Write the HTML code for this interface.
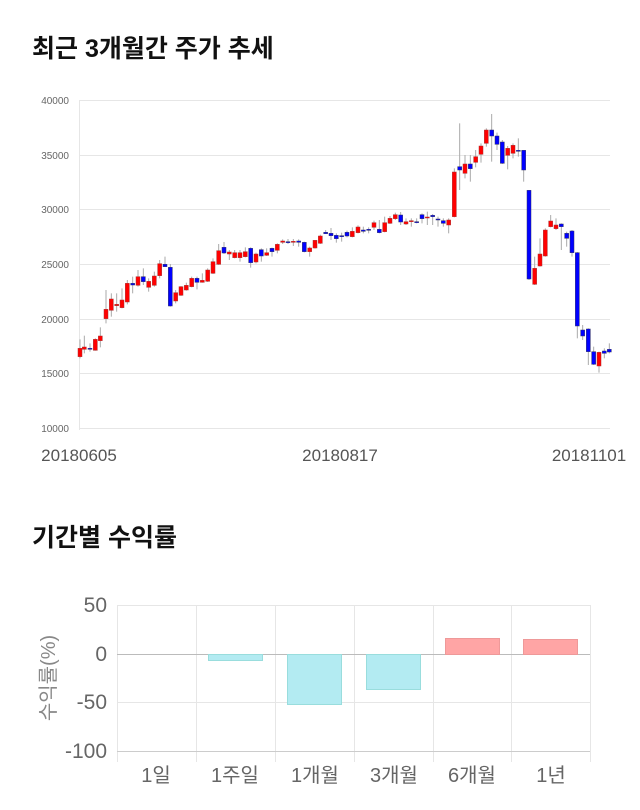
<!DOCTYPE html>
<html><head><meta charset="utf-8"><style>
body{margin:0;background:#fff;width:640px;height:810px;overflow:hidden}
svg{display:block}
text{font-family:"Liberation Sans","Noto Sans CJK KR",sans-serif}
</style></head><body>
<svg id="s" width="640" height="810" xmlns="http://www.w3.org/2000/svg">
<text x="32" y="57" font-size="25" font-weight="bold" fill="#111" font-family="'Liberation Sans','Noto Sans CJK KR',sans-serif">최근 3개월간 주가 추세</text>
<text x="32" y="546" font-size="25" font-weight="bold" fill="#111" font-family="'Liberation Sans','Noto Sans CJK KR',sans-serif">기간별 수익률</text>
<g stroke="#e6e6e6" stroke-width="1">
<line x1="80" y1="100.5" x2="610" y2="100.5"/><line x1="80" y1="155.5" x2="610" y2="155.5"/>
<line x1="80" y1="209.5" x2="610" y2="209.5"/><line x1="80" y1="264.5" x2="610" y2="264.5"/>
<line x1="80" y1="319.5" x2="610" y2="319.5"/><line x1="80" y1="373.5" x2="610" y2="373.5"/>
<line x1="80" y1="428.5" x2="610" y2="428.5"/><line x1="79.5" y1="100" x2="79.5" y2="430"/>
</g>
<g font-size="10" fill="#666" text-anchor="end">
<text x="69" y="104">40000</text><text x="69" y="159">35000</text><text x="69" y="213">30000</text>
<text x="69" y="268">25000</text><text x="69" y="323">20000</text><text x="69" y="377">15000</text><text x="69" y="432">10000</text>
</g>
<g font-size="17" fill="#555" text-anchor="middle">
<text x="79" y="461">20180605</text><text x="340" y="461">20180817</text><text x="589" y="461">20181101</text>
</g>
<g id="c"></g>
<g stroke="#e6e6e6" stroke-width="1">
<line x1="117" y1="605.5" x2="590" y2="605.5"/><line x1="117" y1="702.5" x2="590" y2="702.5"/>
<line x1="117.5" y1="605" x2="117.5" y2="762"/><line x1="196.5" y1="605" x2="196.5" y2="762"/>
<line x1="275.5" y1="605" x2="275.5" y2="762"/><line x1="354.5" y1="605" x2="354.5" y2="762"/>
<line x1="433.5" y1="605" x2="433.5" y2="762"/><line x1="511.5" y1="605" x2="511.5" y2="762"/>
<line x1="590.5" y1="605" x2="590.5" y2="762"/>
</g>
<line x1="117" y1="654.5" x2="590" y2="654.5" stroke="#bbb"/>
<line x1="117" y1="751.5" x2="590" y2="751.5" stroke="#ccc"/>
<g stroke="#9dd" stroke-width="1">
<rect x="208.5" y="654.5" width="54" height="6" fill="#b3ebf2"/>
<rect x="287.5" y="654.5" width="54" height="50" fill="#b3ebf2"/>
<rect x="366.5" y="654.5" width="54" height="35" fill="#b3ebf2"/>
</g>
<g stroke="#e99" stroke-width="1">
<rect x="445.5" y="638.5" width="54" height="16" fill="#ffa5a5"/>
<rect x="523.5" y="639.5" width="54" height="15" fill="#ffa5a5"/>
</g>
<g font-size="21" fill="#666" text-anchor="end">
<text x="107" y="612">50</text><text x="107" y="661">0</text><text x="107" y="709">-50</text><text x="107" y="758">-100</text>
</g>
<text transform="translate(55,678) rotate(-90)" font-size="20" fill="#888" text-anchor="middle">수익률(%)</text>
<g font-size="20" fill="#666" text-anchor="middle">
<text x="156" y="782">1일</text><text x="235" y="782">1주일</text><text x="315" y="782">1개월</text>
<text x="394" y="782">3개월</text><text x="472" y="782">6개월</text><text x="551" y="782">1년</text>
</g>
</svg>
<script>
var A=[[60,'r',775,800,748,805],[73,'r',771,778,737,790],[90,'b',775,777,760,785],[106,'r',748,781,745,782],[121,'r',738,752,712,772],[138,'r',658,686,600,700],[154,'r',627,661,610,680],[170,'r',643,647,610,665],[186,'r',630,653,595,655],[202,'r',580,636,570,643],[218,'b',580,585,560,610],[234,'r',560,586,540,590],[250,'b',560,575,535,585],[266,'r',574,592,565,605],[283,'r',558,586,545,590],[299,'r',521,557,510,565],[315,'b',523,530,500,530],[331,'b',532,648,522,650],[347,'r',608,633,600,640],[363,'r',590,616,588,618],[379,'r',586,600,578,602],[395,'r',565,590,560,592],[411,'b',565,577,560,598],[427,'r',571,577,550,578],[443,'r',540,574,535,576],[459,'r',515,550,505,552],[476,'r',482,523,462,525],[492,'b',472,489,456,492],[508,'r',486,492,480,510],[524,'r',488,503,480,505],[540,'r',488,503,480,515],[556,'r',485,500,472,502],[572,'b',475,518,472,533],[588,'r',492,516,488,520],[604,'b',479,498,475,515],[620,'r',488,496,475,498],[636,'b',475,485,473,500],[652,'r',463,481,460,490],[668,'r',453,457,448,462],[684,'b',455,457,447,462],[700,'r',454,457,447,468],[716,'b',453,457,448,470],[733,'b',457,485,455,487],[749,'r',474,485,470,500],[765,'r',451,474,450,476],[781,'r',438,460,434,462],[797,'b',427,431,420,432],[813,'b',430,437,414,450],[829,'b',436,446,430,458],[845,'b',437,440,428,455],[861,'b',427,438,422,442]];
var B=[[37,'r',424,440,412,442],[54,'r',411,428,406,430],[70,'b',420,424,410,430],[86,'b',418,420,412,430],[102,'r',398,412,392,420],[118,'b',418,428,390,430],[134,'r',398,425,380,427],[150,'r',385,400,378,402],[166,'r',374,386,368,390],[182,'b',375,396,366,405],[198,'r',395,402,385,405],[214,'r',392,395,385,410],[230,'b',395,398,385,400],[246,'b',374,386,370,400],[262,'r',381,383,365,405],[278,'b',376,380,372,405],[294,'b',387,390,380,410],[310,'b',392,400,385,410],[326,'r',390,405,385,430],[343,'r',246,380,235,382],[359,'b',230,240,100,300],[375,'r',222,250,195,265],[391,'b',222,236,195,275],[407,'r',200,217,180,232],[423,'r',168,193,160,218],[439,'r',120,160,115,170],[455,'b',120,138,72,215],[471,'b',138,163,128,180],[487,'b',156,220,150,222],[503,'r',175,196,168,238],[519,'r',166,190,160,205],[535,'b',181,183,145,200],[551,'b',181,240,180,275],[567,'b',301,567,300,570],[584,'r',535,583,500,585],[600,'r',492,528,445,530],[616,'r',420,498,415,500],[632,'r',393,410,375,412],[648,'r',405,416,385,420],[664,'b',402,410,400,480],[680,'b',430,445,425,470],[696,'b',423,488,420,500],[712,'b',488,708,486,745],[728,'b',720,738,705,750],[745,'b',717,785,715,825],[761,'b',785,823,770,825],[777,'r',787,828,785,848],[793,'b',783,790,775,805],[808,'b',778,786,760,790]];
var h='';
function add(ox,a){var x=ox+a[0]/3,t=90+a[2]/3,b=90+a[3]/3,wt=90+a[4]/3,wb=90+a[5]/3;
h+='<line x1="'+x+'" x2="'+x+'" y1="'+wt+'" y2="'+wb+'" stroke="#aaa" stroke-width="1"/>';
var hh=Math.max(b-t,1);
h+='<rect x="'+(x-2)+'" y="'+t+'" width="4" height="'+hh+'" fill="'+(a[1]=='r'?'#f00':'#00f')+'" stroke="'+(a[1]=='r'?'#a33':'#336')+'" stroke-width="0.5"/>';}
A.forEach(function(a){add(60,a)});B.forEach(function(a){add(340,a)});
document.getElementById('c').innerHTML=h;
</script>
</body></html>
